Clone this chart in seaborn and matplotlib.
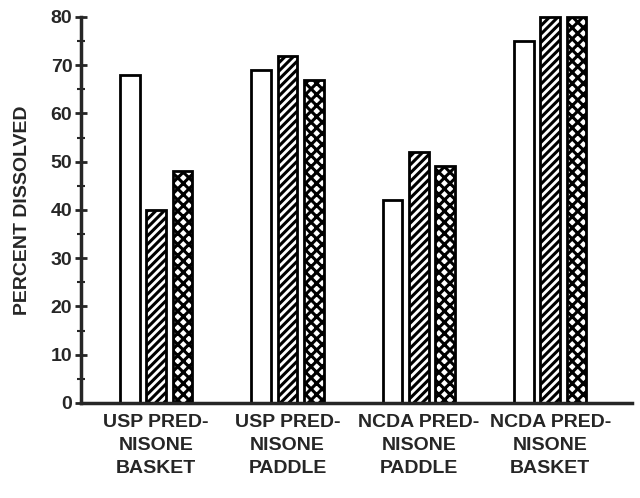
import pandas as pd
import matplotlib
matplotlib.use("Agg")
import matplotlib.pyplot as plt
from matplotlib.ticker import MultipleLocator
import seaborn as sb

# data
groups = ["USP PRED-\nNISONE\nBASKET", "USP PRED-\nNISONE\nPADDLE",
          "NCDA PRED-\nNISONE\nPADDLE", "NCDA PRED-\nNISONE\nBASKET"]
series = ["A", "B", "C"]
vals_a = [68, 69, 42, 75]
vals_b = [40, 72, 52, 80]
vals_c = [48, 67, 49, 80]

df = pd.DataFrame({
    "group": groups * 3,
    "series": [s for s in series for _ in groups],
    "pct": vals_a + vals_b + vals_c,
})

sb.set_style("ticks")
plt.rcParams["font.family"] = ["Liberation Sans", "DejaVu Sans"]
plt.rcParams["font.weight"] = "bold"
plt.rcParams["hatch.linewidth"] = 2.2
plt.rcParams["hatch.color"] = "black"

fig = plt.figure(figsize=(6.4, 4.98), dpi=100)
ax = fig.add_axes([0.127, 0.191, 0.86, 0.775])

sb.barplot(data=df, x="group", y="pct", hue="series", order=groups,
           hue_order=series, palette=["white"] * 3, width=0.6, gap=0.25,
           edgecolor="black", linewidth=2, legend=False, ax=ax)

hatches = ["", "////", "xxx"]
for cont, h in zip(ax.containers, hatches):
    for bar in cont:
        bar.set_hatch(h)
        bar.set_clip_on(False)

ax.set_ylim(0, 80)
ax.set_xlim(-0.57, 3.62)
ax.yaxis.set_major_locator(MultipleLocator(10))
ax.yaxis.set_minor_locator(MultipleLocator(5))
ax.tick_params(axis="y", which="major", direction="inout", length=9, width=2,
               labelsize=14, pad=2)
ax.tick_params(axis="y", which="minor", direction="inout", length=6, width=1.5)
ax.tick_params(axis="x", length=0, labelsize=14, pad=8)
for lab in ax.get_yticklabels() + ax.get_xticklabels():
    lab.set_fontweight("bold")
for lab in ax.get_xticklabels():
    lab.set_linespacing(1.45)

ax.set_xlabel("")
ax.set_ylabel("PERCENT DISSOLVED", fontsize=14, fontweight="bold", labelpad=14)
sb.despine(ax=ax)
ax.spines["left"].set_linewidth(2.5)
ax.spines["bottom"].set_linewidth(2.5)

fig.savefig("out.png", dpi=100)
